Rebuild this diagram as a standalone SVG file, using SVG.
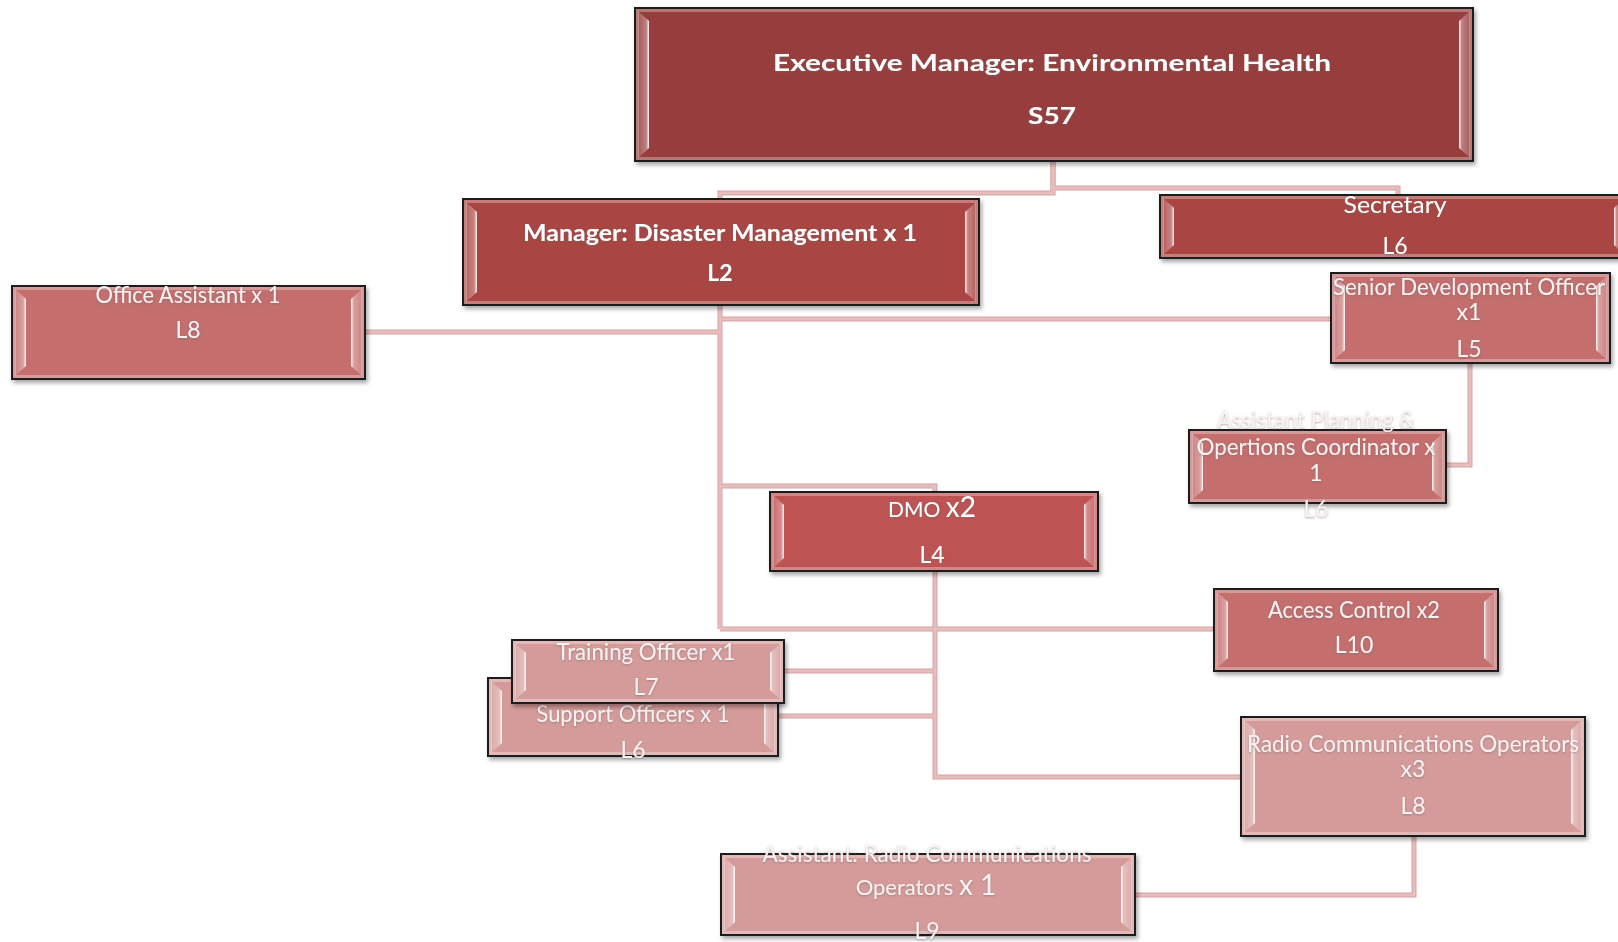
<svg xmlns="http://www.w3.org/2000/svg" width="1618" height="942" viewBox="0 0 1618 942">
<defs>
<filter id="sh" x="-5%" y="-10%" width="112%" height="130%"><feDropShadow dx="2" dy="3" stdDeviation="2" flood-color="#000" flood-opacity="0.35"/></filter>
<filter id="ts" x="-5%" y="-30%" width="110%" height="160%"><feDropShadow dx="0" dy="1" stdDeviation="1" flood-color="#6a6a6a" flood-opacity="0.55"/></filter>
<linearGradient id="bl" x1="0" y1="0" x2="1" y2="0"><stop offset="0" stop-color="#fff" stop-opacity="0.15"/><stop offset="0.75" stop-color="#fff" stop-opacity="0.35"/><stop offset="1" stop-color="#fff" stop-opacity="0.95"/></linearGradient>
<linearGradient id="br" x1="1" y1="0" x2="0" y2="0"><stop offset="0" stop-color="#fff" stop-opacity="0.15"/><stop offset="0.75" stop-color="#fff" stop-opacity="0.35"/><stop offset="1" stop-color="#fff" stop-opacity="0.95"/></linearGradient>
</defs>
<style>
.b{stroke:#1c1c1c;stroke-width:2;filter:url(#sh)}
.fr{fill:none;stroke:#fff;stroke-opacity:0.3;stroke-width:3}
.bl{fill:url(#bl)}
.br{fill:url(#br)}
.c1{fill:#973C3C}.c2{fill:#A94543}.c3{fill:#BE5352}.c4{fill:#C46E6E}.c5{fill:#D59B9B}
.t{font-family:Lato,"Liberation Sans",sans-serif;fill:#fff;text-anchor:middle;font-size:23px;filter:url(#ts)}
.lt{fill:#FBF1F1}
.bd{font-weight:bold}
.co{fill:none;stroke-linejoin:miter}
.co .o{stroke:#D7A2A2;stroke-width:5}
.co .i{stroke:#E7BDBD;stroke-width:3}
</style>
<rect width="1618" height="942" fill="#fff"/>
<g id="connectors" class="co">
<g class="o">
<path d="M1053,161 V193 H720 V199"/>
<path d="M1053,161 V188 H1398 V195"/>
<path d="M720,305 V629"/>
<path d="M720,332 H365"/>
<path d="M720,319 H1331"/>
<path d="M720,486 H935 V492"/>
<path d="M720,629 H1214"/>
<path d="M1470,363 V465 H1446"/>
<path d="M935,571 V777 H1241"/>
<path d="M935,671 H784"/>
<path d="M935,716 H778"/>
<path d="M1414,836 V895 H1135"/>
</g>
<g class="i">
<path d="M1053,161 V193 H720 V199"/>
<path d="M1053,161 V188 H1398 V195"/>
<path d="M720,305 V629"/>
<path d="M720,332 H365"/>
<path d="M720,319 H1331"/>
<path d="M720,486 H935 V492"/>
<path d="M720,629 H1214"/>
<path d="M1470,363 V465 H1446"/>
<path d="M935,571 V777 H1241"/>
<path d="M935,671 H784"/>
<path d="M935,716 H778"/>
<path d="M1414,836 V895 H1135"/>
</g>
</g>
<g id="exec">
<rect class="b c1" x="635" y="8" width="838" height="153"/>
<rect class="fr" x="637.5" y="10.5" width="833" height="148"/>
<path class="bl" d="M638,11 L649,21 L649,148 L638,158 Z"/>
<path class="br" d="M1470,11 L1459,21 L1459,148 L1470,158 Z"/>
<text class="t bd" x="1052" y="71" font-size="33" textLength="558" lengthAdjust="spacingAndGlyphs">Executive Manager: Environmental Health</text>
<text class="t bd" x="1052" y="124" font-size="34" textLength="48" lengthAdjust="spacingAndGlyphs">S57</text>
</g>
<g id="manager">
<rect class="b c2" x="463" y="199" width="516" height="106"/>
<rect class="fr" x="465.5" y="201.5" width="511" height="101"/>
<path class="bl" d="M466,202 L477,212 L477,292 L466,302 Z"/>
<path class="br" d="M976,202 L965,212 L965,292 L976,302 Z"/>
<text class="t bd" x="720" y="241" font-size="26" textLength="394" lengthAdjust="spacingAndGlyphs">Manager: Disaster Management x 1</text>
<text class="t bd" x="720" y="281" font-size="26">L2</text>
</g>
<g id="secretary">
<rect class="b c2" x="1160" y="195" width="468" height="63"/>
<rect class="fr" x="1162.5" y="197.5" width="463" height="58"/>
<path class="bl" d="M1163,198 L1174,208 L1174,245 L1163,255 Z"/>
<path class="br" d="M1625,198 L1614,208 L1614,245 L1625,255 Z"/>
<text class="t" x="1395" y="213" textLength="103" lengthAdjust="spacingAndGlyphs">Secretary</text>
<text class="t" x="1395" y="254">L6</text>
</g>
<g id="senior-development-officer">
<rect class="b c4" x="1331" y="273" width="279" height="90"/>
<rect class="fr" x="1333.5" y="275.5" width="274" height="85"/>
<path class="bl" d="M1334,276 L1345,286 L1345,350 L1334,360 Z"/>
<path class="br" d="M1607,276 L1596,286 L1596,350 L1607,360 Z"/>
<text class="t lt" x="1469" y="295" textLength="272" lengthAdjust="spacingAndGlyphs">Senior Development Officer</text>
<text class="t lt" x="1469" y="320">x1</text>
<text class="t lt" x="1469" y="357">L5</text>
</g>
<g id="office-assistant">
<rect class="b c4" x="12" y="286" width="353" height="93"/>
<rect class="fr" x="14.5" y="288.5" width="348" height="88"/>
<path class="bl" d="M15,289 L26,299 L26,366 L15,376 Z"/>
<path class="br" d="M362,289 L351,299 L351,366 L362,376 Z"/>
<text class="t lt" x="188" y="303" textLength="185" lengthAdjust="spacingAndGlyphs">Office Assistant x 1</text>
<text class="t lt" x="188" y="338">L8</text>
</g>
<g id="assistant-planning">
<rect class="b c4" x="1189" y="430" width="257" height="73"/>
<rect class="fr" x="1191.5" y="432.5" width="252" height="68"/>
<path class="bl" d="M1192,433 L1203,443 L1203,490 L1192,500 Z"/>
<path class="br" d="M1443,433 L1432,443 L1432,490 L1443,500 Z"/>
<text class="t lt" x="1316" y="428" textLength="198" lengthAdjust="spacingAndGlyphs">Assistant Planning &amp;</text>
<text class="t lt" x="1316" y="455" textLength="239" lengthAdjust="spacingAndGlyphs">Opertions Coordinator x</text>
<text class="t lt" x="1316" y="481">1</text>
<text class="t lt" x="1316" y="517">L6</text>
</g>
<g id="dmo">
<rect class="b c3" x="770" y="492" width="328" height="79"/>
<rect class="fr" x="772.5" y="494.5" width="323" height="74"/>
<path class="bl" d="M773,495 L784,505 L784,558 L773,568 Z"/>
<path class="br" d="M1095,495 L1084,505 L1084,558 L1095,568 Z"/>
<text class="t" x="932" y="517"><tspan font-size="21">DMO </tspan><tspan font-size="28">x2</tspan></text>
<text class="t" x="932" y="563" font-size="29">L4</text>
</g>
<g id="access-control">
<rect class="b c4" x="1214" y="589" width="284" height="82"/>
<rect class="fr" x="1216.5" y="591.5" width="279" height="77"/>
<path class="bl" d="M1217,592 L1228,602 L1228,658 L1217,668 Z"/>
<path class="br" d="M1495,592 L1484,602 L1484,658 L1495,668 Z"/>
<text class="t lt" x="1354" y="618" textLength="172" lengthAdjust="spacingAndGlyphs">Access Control x2</text>
<text class="t lt" x="1354" y="653">L10</text>
</g>
<g id="support-officers">
<rect class="b c5" x="488" y="678" width="290" height="78"/>
<rect class="fr" x="490.5" y="680.5" width="285" height="73"/>
<path class="bl" d="M491,681 L502,691 L502,743 L491,753 Z"/>
<path class="br" d="M775,681 L764,691 L764,743 L775,753 Z"/>
<text class="t lt" x="633" y="722" textLength="193" lengthAdjust="spacingAndGlyphs">Support Officers x 1</text>
<text class="t lt" x="633" y="758">L6</text>
</g>
<g id="training-officer">
<rect class="b c5" x="512" y="640" width="272" height="63"/>
<rect class="fr" x="514.5" y="642.5" width="267" height="58"/>
<path class="bl" d="M515,643 L526,653 L526,690 L515,700 Z"/>
<path class="br" d="M781,643 L770,653 L770,690 L781,700 Z"/>
<text class="t lt" x="646" y="660" textLength="179" lengthAdjust="spacingAndGlyphs">Training Officer x1</text>
<text class="t lt" x="646" y="695">L7</text>
</g>
<g id="radio-operators">
<rect class="b c5" x="1241" y="717" width="344" height="119"/>
<rect class="fr" x="1243.5" y="719.5" width="339" height="114"/>
<path class="bl" d="M1244,720 L1255,730 L1255,823 L1244,833 Z"/>
<path class="br" d="M1582,720 L1571,730 L1571,823 L1582,833 Z"/>
<text class="t lt" x="1413" y="752" textLength="332" lengthAdjust="spacingAndGlyphs">Radio Communications Operators</text>
<text class="t lt" x="1413" y="777">x3</text>
<text class="t lt" x="1413" y="814">L8</text>
</g>
<g id="assistant-radio-operators">
<rect class="b c5" x="721" y="854" width="414" height="81"/>
<rect class="fr" x="723.5" y="856.5" width="409" height="76"/>
<path class="bl" d="M724,857 L735,867 L735,922 L724,932 Z"/>
<path class="br" d="M1132,857 L1121,867 L1121,922 L1132,932 Z"/>
<text class="t lt" x="927" y="862" textLength="329" lengthAdjust="spacingAndGlyphs">Assistant: Radio Communications</text>
<text class="t lt" x="926" y="895"><tspan font-size="22">Operators </tspan><tspan font-size="28">x 1</tspan></text>
<text class="t lt" x="927" y="939" font-size="28">L9</text>
</g>
</svg>
